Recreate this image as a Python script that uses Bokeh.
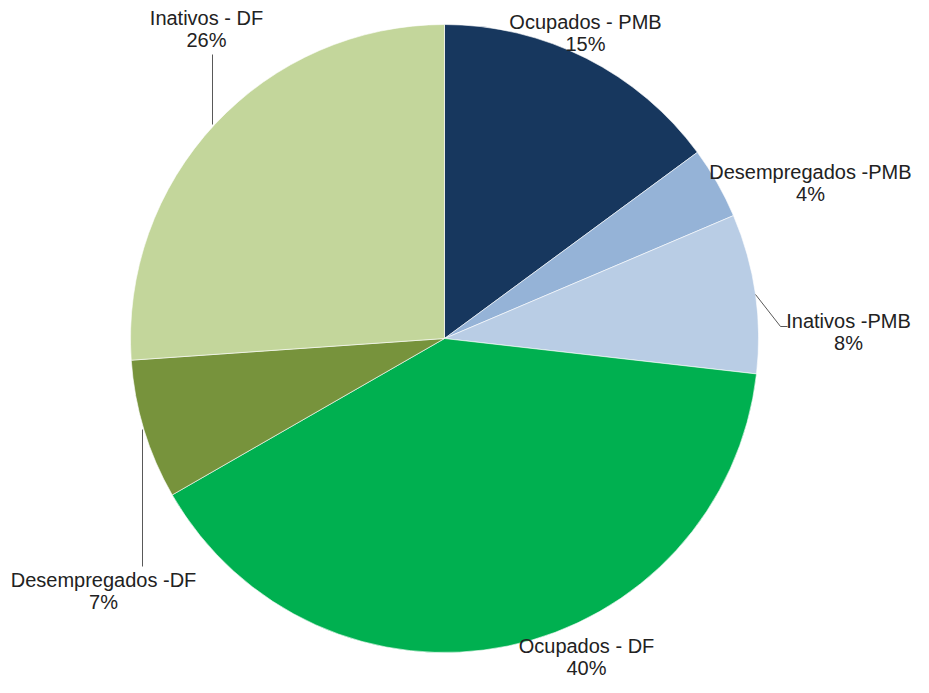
import math
from bokeh.plotting import figure
from bokeh.models import Range1d, ColumnDataSource
from bokeh.embed import file_html
from bokeh.resources import INLINE
from bokeh.core.properties import value

# ---- data ----
categories = ["Ocupados - PMB", "Desempregados -PMB", "Inativos -PMB",
              "Ocupados - DF", "Desempregados -DF", "Inativos - DF"]
shares = [14.9, 3.7, 8.2, 39.9, 7.2, 26.1]
colors = ["#17375E", "#95B3D7", "#B9CDE5", "#00B050", "#77933C", "#C3D69B"]

# ---- layout (screen px) ----
FW, FH = 913, 677
H = 693
CX, CY, R = 444, 338, 314
# centre of the first label line for each slice, and alignment
label_pos = [(585, 21), (911, 171), (848, 320), (586, 645), (103, 579), (206, 17)]
label_align = ["center", "right", "center", "center", "center", "center"]
line_gap = 22
leaders = {
    2: [(755, 294), (780, 326), (787, 326)],
    4: [(142, 429), (142, 566)],
    5: [(212, 54), (212, 124)],
}

def Y(ys):
    return H - ys

total = sum(shares)
starts, ends = [], []
cum = 0.0
for v in shares:
    starts.append(math.pi / 2 - 2 * math.pi * cum / total)
    cum += v
    ends.append(math.pi / 2 - 2 * math.pi * cum / total)

src = ColumnDataSource(dict(cat=categories, start=starts, end=ends, color=colors))

p = figure(width=FW, height=FH, output_backend="svg", toolbar_location=None,
           x_range=Range1d(0, FW), y_range=Range1d(H - FH, H), min_border=0)
p.axis.visible = False
p.grid.visible = False
p.outline_line_color = None
p.background_fill_color = "white"

p.wedge(x=CX, y=Y(CY), radius=R, start_angle="start", end_angle="end",
        direction="clock", fill_color="color", line_color="white",
        line_width=0.6, source=src)

for i, pts in leaders.items():
    p.line([q[0] for q in pts], [Y(q[1]) for q in pts], line_color="#595959", line_width=1)

pcts = [f"{round(v)}%" for v in shares]

for i, cat in enumerate(categories):
    lx, ly = label_pos[i]
    al = label_align[i]
    common = dict(text_baseline="middle", text_font=value("Liberation Sans"),
                  text_font_size="20px", text_color="#222222")
    p.text(x=[lx], y=[Y(ly)], text=[cat], text_align=al, **common)
    if al == "right":
        # centre the percentage under the right-aligned name
        px = lx - 101
    else:
        px = lx
    p.text(x=[px], y=[Y(ly + line_gap)], text=[pcts[i]], text_align="center", **common)

open("out.html", "w").write(file_html(p, INLINE))
